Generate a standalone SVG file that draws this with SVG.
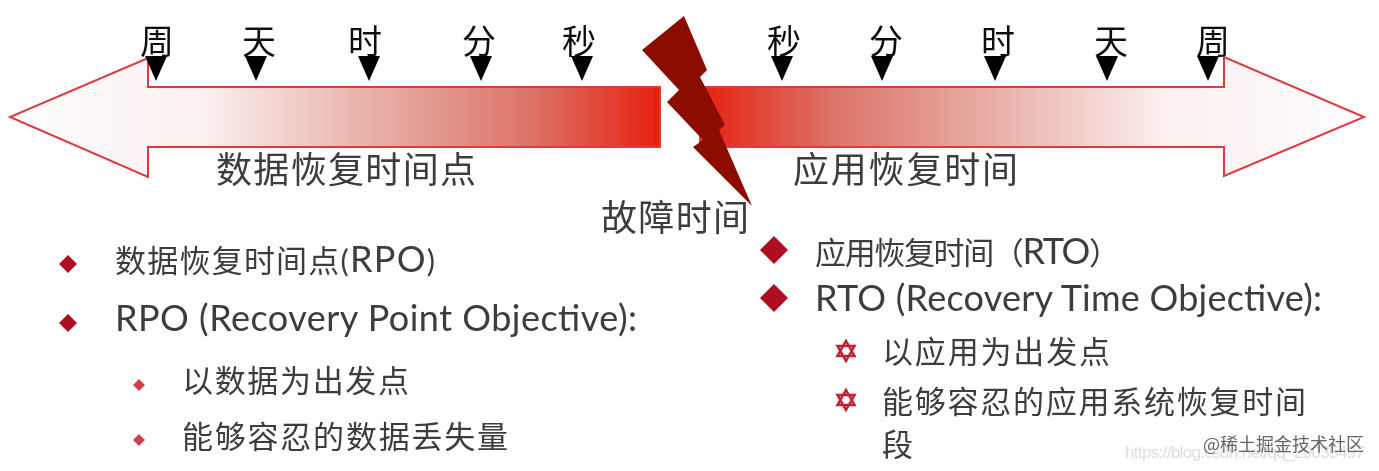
<svg xmlns="http://www.w3.org/2000/svg" width="1379" height="471" viewBox="0 0 1379 471">
<style>
text{font-family:"Noto Sans CJK SC","Noto Sans",sans-serif;fill:#333}
.t{font-size:34px;fill:#111;text-anchor:middle}
.h{font-size:36px;fill:#3c3c3c}
.b{font-size:31px;fill:#3c3c3c;font-family:"Lato","Noto Sans CJK SC",sans-serif}
.l{font-size:36px}
.s{font-size:31px;fill:#3c3c3c}
.tri{fill:#000}
.arrow{stroke:#dd3a40;stroke-width:2}
.d{fill:#b01020}
.star{fill:#fbeedd;stroke:#c02030;stroke-width:2.5}
</style>
<defs>
<linearGradient id="gl" x1="10" y1="0" x2="660" y2="0" gradientUnits="userSpaceOnUse">
<stop offset="0" stop-color="#fff"/><stop offset=".3" stop-color="#fbefef"/><stop offset=".6" stop-color="#e5a59c"/><stop offset=".8" stop-color="#dc7468"/><stop offset="1" stop-color="#e6200f"/>
</linearGradient>
<linearGradient id="gr" x1="1364" y1="0" x2="700" y2="0" gradientUnits="userSpaceOnUse">
<stop offset="0" stop-color="#fff"/><stop offset=".3" stop-color="#fbefef"/><stop offset=".6" stop-color="#e5a59c"/><stop offset=".8" stop-color="#dc7468"/><stop offset="1" stop-color="#e6200f"/>
</linearGradient>
<filter id="soft" x="-5%" y="-5%" width="110%" height="110%"><feGaussianBlur stdDeviation="0.6"/></filter>
<path id="tk" d="M-11 0H11L0 25Z"/>
<path id="dia" d="M0 -9L9 0L0 9L-9 0Z"/>
<path id="dil" d="M0 -14L14 0L0 14L-14 0Z"/>
<path id="sm" d="M0 -6L6 0L0 6L-6 0Z"/>
<path id="star" d="M0 -10L8.5 5H-8.5ZM0 10L8.5 -5H-8.5Z"/>
</defs>
<rect width="1379" height="471" fill="#fff"/>
<g filter="url(#soft)">
<g id="left-arrow"><path class="arrow" fill="url(#gl)" d="M660 87H148V58L10 117L148 177V147H660Z"/></g>
<g id="right-arrow"><path class="arrow" fill="url(#gr)" d="M700 87H1224V57L1364 117L1224 176V147H700Z"/></g>
<g id="bolt-node"><path fill="#8c0c05" d="M684 16L707 70L700 77L725 125L719 130L752 206L693 147L703 140L667 102L679 90L642 50Z"/></g>
<g id="left-ticks">
<text class="t" x="157" y="54">周</text><text class="t" x="259" y="54">天</text><text class="t" x="365" y="54">时</text><text class="t" x="479" y="54">分</text><text class="t" x="579" y="54">秒</text>
<use href="#tk" class="tri" x="156" y="56"/><use href="#tk" class="tri" x="256" y="56"/><use href="#tk" class="tri" x="369" y="56"/><use href="#tk" class="tri" x="481" y="56"/><use href="#tk" class="tri" x="582" y="56"/>
</g>
<g id="right-ticks">
<text class="t" x="784" y="54">秒</text><text class="t" x="886" y="54">分</text><text class="t" x="998" y="54">时</text><text class="t" x="1111" y="54">天</text><text class="t" x="1213" y="54">周</text>
<use href="#tk" class="tri" x="782" y="56"/><use href="#tk" class="tri" x="882" y="56"/><use href="#tk" class="tri" x="995" y="56"/><use href="#tk" class="tri" x="1107" y="56"/><use href="#tk" class="tri" x="1208" y="56"/>
</g>
<g id="label-rpo"><text class="h" x="216" y="183" textLength="260">数据恢复时间点</text></g>
<g id="label-rto"><text class="h" x="793" y="183" textLength="225">应用恢复时间</text></g>
<g id="label-fault"><text class="h" x="601" y="231" textLength="148">故障时间</text></g>
<g id="rpo-list">
<use href="#dia" class="d" x="68" y="264"/>
<text class="b" x="115" y="272" textLength="320">数据恢复时间点(<tspan class="l">RPO</tspan>)</text>
<use href="#dia" class="d" x="68" y="323"/>
<text class="b l" x="115" y="331" textLength="522">RPO (Recovery Point Objective):</text>
<use href="#sm" fill="#d04050" x="139" y="385"/>
<text class="s" x="182" y="392" textLength="227">以数据为出发点</text>
<use href="#sm" fill="#d04050" x="139" y="440"/>
<text class="s" x="182" y="448" textLength="326">能够容忍的数据丢失量</text>
</g>
<g id="rto-list">
<use href="#dil" class="d" x="774" y="250"/>
<text class="b" x="815" y="264" textLength="305">应用恢复时间（<tspan class="l">RTO</tspan>）</text>
<use href="#dil" class="d" x="774" y="298"/>
<text class="b l" x="815" y="311" textLength="507">RTO (Recovery Time Objective):</text>
<use href="#star" class="star" x="846" y="351"/>
<text class="s" x="882" y="363" textLength="228">以应用为出发点</text>
<use href="#star" class="star" x="846" y="400"/>
<text class="s" x="882" y="413" textLength="424">能够容忍的应用系统恢复时间</text>
<text class="s" x="882" y="456">段</text>
</g>
</g>
<g id="watermark">
<text x="1125" y="458" font-size="17" textLength="240" style="font-family:'Liberation Sans',sans-serif;fill:#ddd">https://blog.csdn.net/qq_29035497</text>
<text x="1203" y="451" font-size="18" style="fill:#666">@稀土掘金技术社区</text>
</g>
</svg>
